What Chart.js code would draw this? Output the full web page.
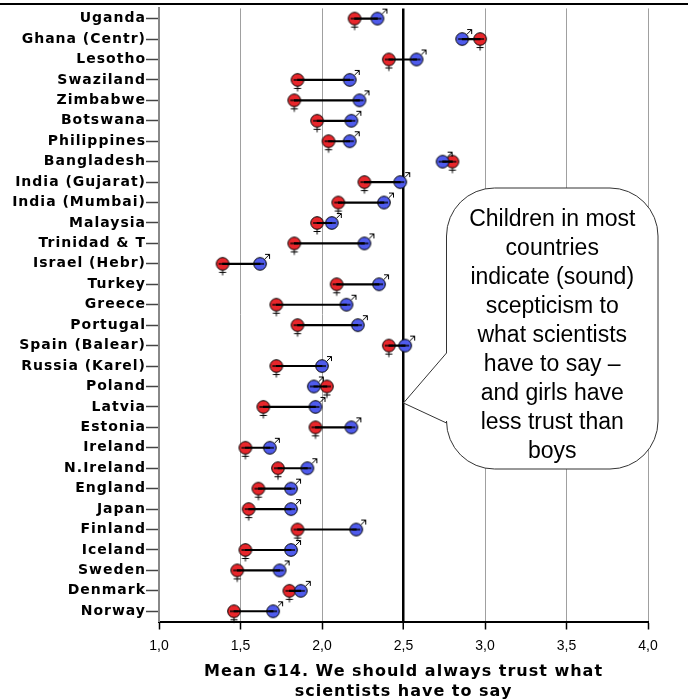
<!DOCTYPE html>
<html>
<head>
<meta charset="utf-8">
<script src="https://cdn.jsdelivr.net/npm/chart.js@4.4.1/dist/chart.umd.min.js"></script>
<style>
  html, body { margin: 0; padding: 0; background: #fff; }
</style>
</head>
<body>
<canvas id="trust" width="688" height="700"></canvas>
<script>
const countries = ["Uganda", "Ghana (Centr)", "Lesotho", "Swaziland", "Zimbabwe", "Botswana",
  "Philippines", "Bangladesh", "India (Gujarat)", "India (Mumbai)", "Malaysia", "Trinidad & T",
  "Israel (Hebr)", "Turkey", "Greece", "Portugal", "Spain (Balear)", "Russia (Karel)", "Poland",
  "Latvia", "Estonia", "Ireland", "N.Ireland", "England", "Japan", "Finland", "Iceland",
  "Sweden", "Denmark", "Norway"];
const girls = [2.20, 2.97, 2.41, 1.85, 1.83, 1.97, 2.04, 2.80, 2.26, 2.10, 1.97, 1.83, 1.39, 2.09,
  1.72, 1.85, 2.41, 1.72, 2.03, 1.64, 1.96, 1.53, 1.73, 1.61, 1.55, 1.85, 1.53, 1.48, 1.80, 1.46];
const boys = [2.34, 2.86, 2.58, 2.17, 2.23, 2.18, 2.17, 2.74, 2.48, 2.38, 2.06, 2.26, 1.62, 2.35,
  2.15, 2.22, 2.51, 2.00, 1.95, 1.96, 2.18, 1.68, 1.91, 1.81, 1.81, 2.21, 1.81, 1.74, 1.87, 1.70];
const xTickValues = [1.0, 1.5, 2.0, 2.5, 3.0, 3.5, 4.0];
const xTitle = ["Mean G14. We should always trust what", "scientists have to say"];
const calloutLines = ["Children in most", "countries", "indicate (sound)", "scepticism to",
  "what scientists", "have to say \u2013", "and girls have", "less trust than", "boys"];

const RED = "#e8262b";
const BLUE = "#4f5bec";

// venus / mars marker drawn once into a small canvas
function marker(fill, sex) {
  const c = document.createElement("canvas");
  c.width = 32; c.height = 32;
  const g = c.getContext("2d");
  const cx = 16, cy = 16, r = 6.3;
  g.strokeStyle = "#000";
  g.lineWidth = 1;
  g.beginPath();
  if (sex === "f") {
    g.moveTo(cx, cy + r); g.lineTo(cx, cy + 11.5);
    g.moveTo(cx - 3.5, cy + 8.5); g.lineTo(cx + 3.5, cy + 8.5);
  } else {
    const tx = cx + 9.5, ty = cy - 9.5;
    g.moveTo(cx + r * 0.7, cy - r * 0.7); g.lineTo(tx, ty);
    g.moveTo(tx - 4.5, ty); g.lineTo(tx, ty); g.lineTo(tx, ty + 4.5);
  }
  g.stroke();
  g.beginPath();
  g.arc(cx, cy, r, 0, Math.PI * 2);
  g.fillStyle = fill;
  g.fill();
  g.stroke();
  g.beginPath();
  g.moveTo(cx - 4, cy); g.lineTo(cx + 4, cy);
  g.lineWidth = 1.4;
  g.stroke();
  return c;
}

function wrapSpacing(scale, method, spacing) {
  if (!scale || scale["_sp_" + method]) return;
  const orig = scale[method];
  scale[method] = function (...args) {
    const prev = this.ctx.letterSpacing;
    this.ctx.letterSpacing = spacing;
    orig.apply(this, args);
    this.ctx.letterSpacing = prev;
  };
  scale["_sp_" + method] = true;
}

const spacedText = {
  id: "spacedText",
  beforeDraw(chart) {
    wrapSpacing(chart.scales.y, "drawLabels", "1px");
    wrapSpacing(chart.scales.x, "drawTitle", "1px");
  }
};

const callout = {
  id: "callout",
  afterDraw(chart) {
    const ctx = chart.ctx;
    const L = 446.5, R = 658, T = 188, B = 469, r = 48;
    const tipX = chart.scales.x.getPixelForValue(2.5), tipY = 403;
    ctx.save();
    ctx.letterSpacing = "0px";
    // black rule across the top
    ctx.beginPath();
    ctx.moveTo(0, 4); ctx.lineTo(688, 4);
    ctx.lineWidth = 2; ctx.strokeStyle = "#000";
    ctx.stroke();

    ctx.beginPath();
    ctx.moveTo(L + r, T);
    ctx.lineTo(R - r, T);
    ctx.arcTo(R, T, R, T + r, r);
    ctx.lineTo(R, B - r);
    ctx.arcTo(R, B, R - r, B, r);
    ctx.lineTo(L + r, B);
    ctx.arcTo(L, B, L, B - r, r);
    ctx.lineTo(L, 423);
    ctx.lineTo(tipX, tipY);
    ctx.lineTo(L, 353);
    ctx.lineTo(L, T + r);
    ctx.arcTo(L, T, L + r, T, r);
    ctx.closePath();
    ctx.fillStyle = "#fff";
    ctx.fill();
    ctx.lineWidth = 1;
    ctx.strokeStyle = "#333";
    ctx.stroke();

    ctx.fillStyle = "#000";
    ctx.font = "23px 'Liberation Sans', Arial, sans-serif";
    ctx.textAlign = "center";
    ctx.textBaseline = "middle";
    calloutLines.forEach((t, i) => ctx.fillText(t, (L + R) / 2, 220 + i * 29));
    ctx.restore();
  }
};

new Chart(document.getElementById("trust"), {
  type: "bar",
  data: {
    labels: countries,
    datasets: [
      {
        type: "bar",
        data: girls.map((g, i) => [g, boys[i]]),
        backgroundColor: "#000",
        barThickness: 1.5,
        order: 0
      },
      {
        type: "line",
        indexAxis: "y",
        data: boys,
        showLine: false,
        pointStyle: marker(BLUE, "m"),
        pointRadius: 6,
        order: 1
      },
      {
        type: "line",
        indexAxis: "y",
        data: girls,
        showLine: false,
        pointStyle: marker(RED, "f"),
        pointRadius: 6,
        order: 2
      }
    ]
  },
  options: {
    indexAxis: "y",
    responsive: false,
    animation: false,
    layout: { padding: { top: 5, right: 40, left: 0, bottom: 0 } },
    plugins: { legend: { display: false }, tooltip: { enabled: false } },
    scales: {
      x: {
        type: "linear",
        min: 1,
        max: 4,
        afterFit: s => { s.height = 78.5; },
        afterBuildTicks: s => { s.ticks = xTickValues.map(v => ({ value: v })); },
        ticks: {
          callback: v => v.toFixed(1).replace(".", ","),
          font: { family: "'Liberation Sans', Arial, sans-serif", size: 14 },
          color: "#000",
          padding: 8
        },
        grid: {
          color: c => (c.tick && c.tick.value === 2.5 ? "#000" : "#a0a0a0"),
          lineWidth: c => (c.tick && c.tick.value === 2.5 ? 2.5 : 1),
          tickColor: "#000",
          tickWidth: 1.5,
          tickLength: 8
        },
        border: { color: "#000", width: 2 },
        title: {
          display: true,
          text: xTitle,
          color: "#000",
          font: { family: "'DejaVu Sans', Verdana, sans-serif", size: 16, weight: "bold", lineHeight: 1.25 },
          padding: { top: 0, bottom: -2 }
        }
      },
      y: {
        type: "category",
        labels: countries,
        afterFit: s => { s.width = 159; },
        ticks: {
          font: { family: "'DejaVu Sans', Verdana, sans-serif", size: 14, weight: "bold" },
          color: "#000",
          padding: 0
        },
        grid: {
          offset: false,
          drawOnChartArea: false,
          tickLength: 13,
          tickColor: "#444",
          tickWidth: 1.5
        },
        border: { color: "#888", width: 2 }
      }
    }
  },
  plugins: [spacedText, callout]
});
</script>
</body>
</html>
